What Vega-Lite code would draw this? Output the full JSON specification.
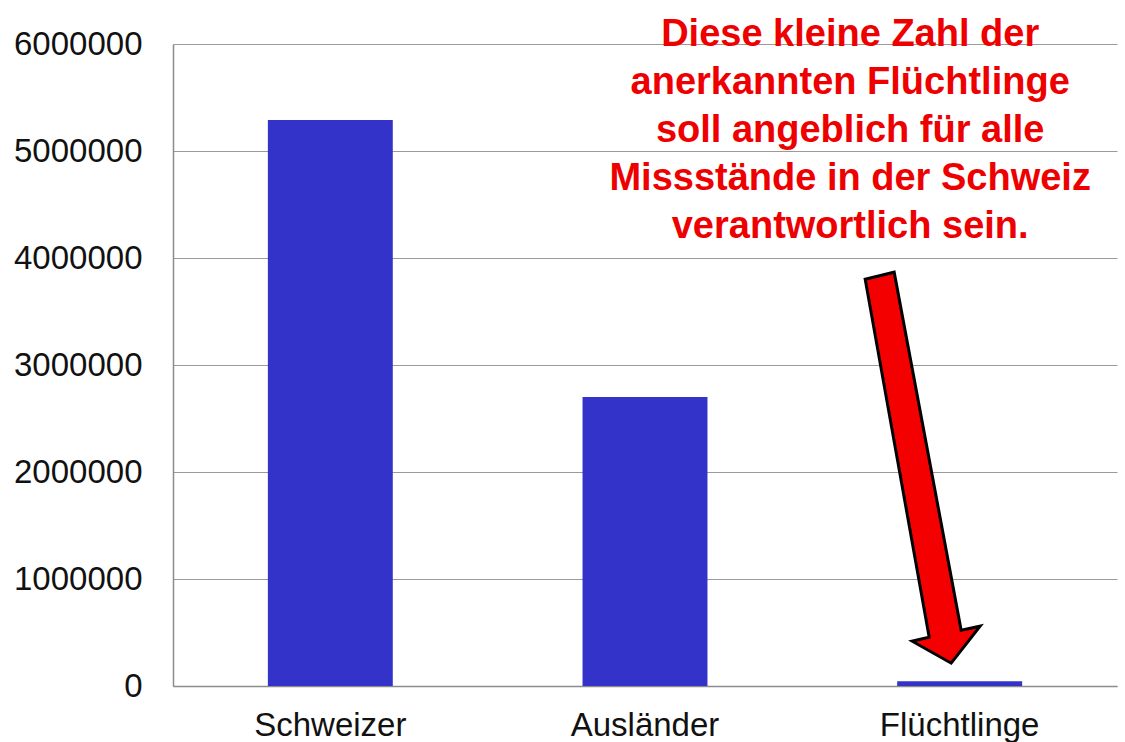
{
  "$schema": "https://vega.github.io/schema/vega-lite/v6.json",
  "width": 944,
  "height": 642,
  "autosize": {"type": "none"},
  "padding": {"left": 173, "top": 44, "right": 8, "bottom": 56},
  "background": "white",
  "config": {
    "view": {"stroke": null},
    "font": "Liberation Sans"
  },
  "data": {
    "values": [
      {"gruppe": "Schweizer", "anzahl": 5290000},
      {"gruppe": "Ausländer", "anzahl": 2700000},
      {"gruppe": "Flüchtlinge", "anzahl": 45000}
    ]
  },
  "layer": [
    {
      "mark": {"type": "bar", "color": "#3333C9"},
      "encoding": {
        "x": {
          "field": "gruppe",
          "type": "nominal",
          "sort": null,
          "scale": {"paddingInner": 0.603, "paddingOuter": 0.3015},
          "axis": {
            "title": null,
            "labelAngle": 0,
            "labelFontSize": 33,
            "labelColor": "#111111",
            "labelPadding": 23,
            "ticks": false,
            "domain": true,
            "domainColor": "#8c8c8c",
            "domainWidth": 1.5,
            "grid": false
          }
        },
        "y": {
          "field": "anzahl",
          "type": "quantitative",
          "scale": {"domain": [0, 6000000], "nice": false},
          "axis": {
            "title": null,
            "values": [0, 1000000, 2000000, 3000000, 4000000, 5000000, 6000000],
            "format": "d",
            "labelFontSize": 33,
            "labelColor": "#111111",
            "labelPadding": 31,
            "ticks": false,
            "domain": true,
            "domainColor": "#8c8c8c",
            "domainWidth": 1.5,
            "grid": true,
            "gridColor": "#9a9a9a",
            "gridWidth": 1.2
          }
        }
      }
    },
    {
      "transform": [{"filter": "datum.gruppe === 'Flüchtlinge'"}],
      "mark": {
        "type": "point",
        "shape": "M-94.5,-402L-65.5,-409L1.5,-51L20.5,-55L-8.5,-18L-47.5,-40L-30.5,-44Z",
        "size": 4,
        "filled": true,
        "fill": "#F50000",
        "stroke": "#000000",
        "strokeWidth": 3,
        "strokeJoin": "miter",
        "opacity": 1,
        "fillOpacity": 1,
        "strokeOpacity": 1
      },
      "encoding": {
        "x": {"field": "gruppe", "type": "nominal", "sort": null},
        "y": {"field": "anzahl", "type": "quantitative"}
      }
    },
    {
      "transform": [{"filter": "datum.gruppe === 'Flüchtlinge'"}],
      "mark": {
        "type": "text",
        "text": ["Diese kleine Zahl der", "anerkannten Flüchtlinge", "soll angeblich für alle", "Missstände in der Schweiz", "verantwortlich sein."],
        "font": "Liberation Sans",
        "fontWeight": "bold",
        "fontSize": 38,
        "lineHeight": 48,
        "color": "#EE0000",
        "align": "center",
        "baseline": "alphabetic",
        "dx": -109.5,
        "dy": 2
      },
      "encoding": {
        "x": {"field": "gruppe", "type": "nominal", "sort": null},
        "y": {"datum": 6000000, "type": "quantitative"}
      }
    }
  ]
}
